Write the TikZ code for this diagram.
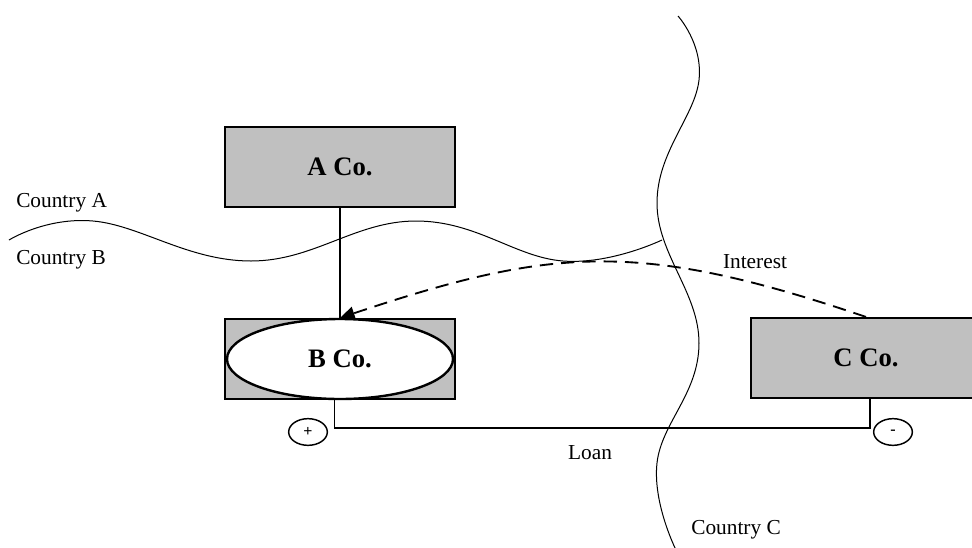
\documentclass[tikz,border=0pt]{standalone}
\usepackage{fontspec}
\setmainfont{Liberation Serif}
\usepackage{tikz}
\usepackage{xcolor}
\usetikzlibrary{positioning, arrows.meta, shapes.geometric}
\definecolor{cogray}{RGB}{192, 192, 192}
\tikzset{
    cobox/.style={rectangle, draw, line width=1.6pt, fill=cogray, minimum width=172.5pt, minimum height=60pt, font=\fontsize{20}{24}\selectfont\bfseries},
    coellipse/.style={ellipse, draw, line width=1.8pt, fill=white, minimum width=169.5pt, minimum height=60pt, inner sep=0pt, font=\fontsize{20}{24}\selectfont\bfseries},
    signnode/.style={ellipse, draw, line width=1.1pt, minimum width=29pt, minimum height=20pt, inner sep=0pt, font=\fontsize{12}{12}\selectfont\bfseries},
    label/.style={font=\fontsize{16}{19}\selectfont, inner sep=0pt},
    border/.style={line width=0.75pt}
}

\begin{document}
\begin{tikzpicture}[x=0.75pt, y=-0.75pt]
    \useasboundingbox (0,0) rectangle (972,547);
    \clip (0,0) rectangle (972,547);

    % borders between the countries
    \draw[border] plot[smooth, tension=0.7] coordinates {(9,240) (93,221) (251,261) (416,221) (563,261) (662,240)};
    \draw[border] plot[smooth, tension=0.7] coordinates {(678,16) (699,80) (657,203) (699,343) (657,463) (676,550)};

    \node[label, anchor=west] (ctryA) at (16,203) {Country A};
    \node[label, anchor=west] (ctryB) at (16,260) {Country B};
    \node[label, anchor=west] (ctryC) at (691,530) {Country C};

    % companies
    \node[cobox] (aco) at (340,167) {A Co.};
    \node[cobox] (bbox) at (340,359) {};
    \node[coellipse] (bco) at (bbox.center) {B Co.};
    \node[cobox] (cco) at (866,358) {C Co.};

    \draw[line width=1.1pt] (aco.south) -- (bbox.north);

    % interest paid back to B Co.
    \draw[line width=1.4pt, dash pattern=on 10pt off 6pt, -{Triangle[length=11pt, width=10pt]}] (cco.north) .. controls (639,240) and (552,247) .. (bbox.north);
    \node[label] (interest) at (755,262) {Interest};

    % loan from B Co. to C Co.
    \draw[line width=1.1pt] ([xshift=-4]bco.south) -- ++(0,28) coordinate (loanL) -| ([xshift=3]cco.south);
    \node[label] (loan) at (590,453) {Loan};
    \node[signnode] (plus) at (308,432) {+};
    \node[signnode] (minus) at (893,432) {-};
\end{tikzpicture}
\end{document}
